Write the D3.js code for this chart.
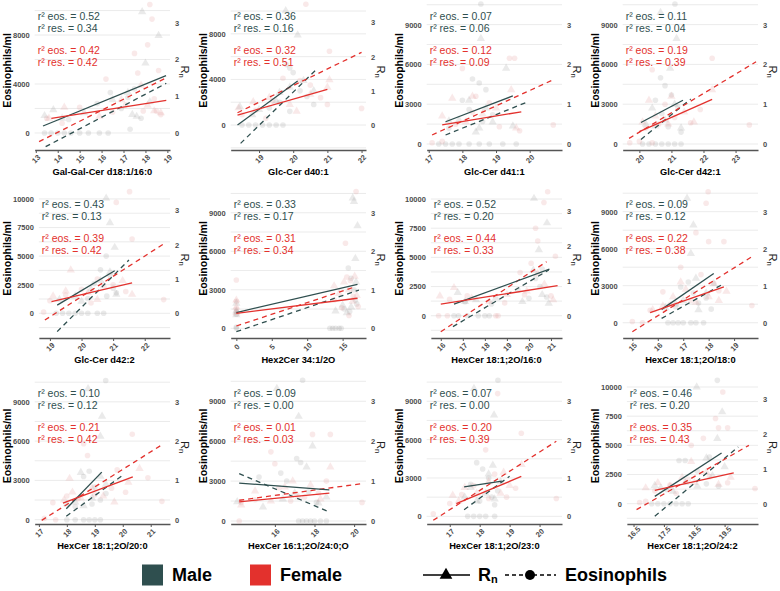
<!DOCTYPE html>
<html><head><meta charset="utf-8">
<script src="https://cdn.jsdelivr.net/npm/d3@7"></script>
<style>body{margin:0;background:#fff}svg{font-family:"Liberation Sans",Arial,sans-serif}</style>
</head><body><svg id="c" width="780" height="591"></svg>
<script>
// ---------------- DATA ----------------
const lipids = ["Gal-Gal-Cer d18:1/16:0","Glc-Cer d40:1","Glc-Cer d41:1","Glc-Cer d42:1",
  "Glc-Cer d42:2","Hex2Cer 34:1/2O","HexCer 18:1;2O/16:0","HexCer 18:1;2O/18:0",
  "HexCer 18:1;2O/20:0","HexCer 16:1;2O/24:0;O","HexCer 18:1;2O/23:0","HexCer 18:1;2O/24:2"];

const r2EosMale   = [0.52,0.36,0.07,0.11,0.43,0.33,0.52,0.09,0.10,0.09,0.07,0.46];
const r2ResMale   = [0.34,0.16,0.06,0.04,0.13,0.17,0.20,0.12,0.12,0.00,0.00,0.20];
const r2EosFemale = [0.42,0.32,0.12,0.19,0.39,0.31,0.44,0.22,0.21,0.01,0.20,0.35];
const r2ResFemale = [0.42,0.51,0.09,0.39,0.42,0.34,0.33,0.38,0.42,0.03,0.39,0.43];

// axis ranges (x: lipid level, y: eosinophils/ml) and tick labels
const xDomains = [[12.95,19.12],[18.17,22.13],[16.94,20.96],[19.48,23.7],[18.65,22.8],[-0.8,18.3],
  [15.55,21.5],[14.62,19.94],[16.85,21.69],[13.77,20.6],[16.23,20.75],[16.28,20.6]];
const eosDomains = [[-1390,10780],[-2190,10880],[-450,10780],[-450,10780],[-2160,10870],[-755,10850],
  [-1910,10860],[-1240,10840],[-330,10820],[-225,10750],[-600,10820],[-1740,10770]];
const xTicks = [[13,14,15,16,17,18,19],[19,20,21,22],[17,18,19,20],[20,21,22,23],[19,20,21,22],[0,5,10,15],
  [16,17,18,19,20,21],[15,16,17,18,19],[17,18,19,20,21],[16,18,20],[17,18,19,20],[16.5,17.5,18.5,19.5]];
const eosTicks = [[0,4000,8000],[0,4000,8000],[0,3000,6000,9000],[0,3000,6000,9000],[0,2500,5000,7500,10000],
  [0,3000,6000,9000],[0,2500,5000,7500,10000],[0,3000,6000,9000],[0,3000,6000,9000],[0,3000,6000,9000],
  [0,3000,6000,9000],[0,2500,5000,7500,10000]];
const rnTicks = [0,1,2,3];
const eosPerRn = 3000;

// regression lines [x1, x2, y1, y2]  (Rn units for Rn, cells/ml for eosinophils)
const maleRnFit = [[13.33,18.94,0.19,1.56],[18.37,20.13,0.0,1.29],[17.5,19.5,0.56,1.21],[20.05,21.36,0.54,1.10],
  [19.23,21.05,0.24,1.24],[0,17.1,0.41,1.14],[16.6,20.93,0.33,1.33],[16.15,18.2,0.36,1.33],
  [17.98,19.25,0.28,1.21],[14.2,18.75,0.95,0.78],[17.48,18.74,0.77,0.92],[17.2,19.4,0.21,1.45]];
const femaleRnFit = [[13.71,18.95,0.40,0.885],[18.37,21.0,0.29,1.04],[17.4,19.75,0.48,0.81],[20.0,22.27,0.31,1.12],
  [19.05,21.6,0.34,0.89],[0,17.1,0.39,0.78],[16.0,21.3,0.33,0.86],[15.7,18.6,0.27,0.97],
  [17.86,20.36,0.42,1.09],[14.2,18.75,0.48,0.70],[17.22,19.39,0.33,1.04],[17.2,19.8,0.38,0.88]];
const maleEosFit = [[13.45,18.95,-1120,4060],[18.46,20.66,-1610,4820],[17.5,19.95,680,3190],[20.05,21.6,350,3390],
  [19.23,21.5,-1600,4660],[0,17.3,-260,2980],[16.55,20.9,-940,3920],[16.15,18.5,350,3060],
  [17.98,20.0,260,3390],[14.2,18.75,3560,680],[17.48,19.0,520,3130],[17.2,19.95,-1080,4860]];
const femaleEosFit = [[13.15,18.9,-710,4465],[18.37,22.0,1080,6380],[17.1,20.75,680,4900],[19.68,23.64,430,6200],
  [18.84,22.63,-590,6120],[0,16.8,180,3240],[16.0,20.8,-1370,4630],[15.0,19.7,-730,5350],
  [17.1,21.46,-50,5800],[14.2,20.35,1560,2800],[16.45,20.56,-310,5870],[16.6,20.3,-510,5000]];

// observations: eosinophils (circles) and Rn (triangles)
const maleEos = [
 [[13.4,0],[13.7,0],[14.0,0],[14.3,0],[14.6,0],[15.0,0],[15.4,0],[15.9,0],[16.3,0],[16.4,3300],[17.2,2900],[17.8,1200],[14.5,1100],[15.8,2400],[17.5,3600],[16.9,2000],[17.3,300]],
 [[18.5,0],[18.7,0],[18.9,0],[19.1,0],[19.3,0],[19.5,0],[19.7,0],[19.9,5000],[20.0,4600],[19.8,5300],[19.6,2000],[20.2,3000],[20.4,2500],[19.3,1500],[20.6,1800],[19.9,1200]],
 [[17.3,0],[17.5,0],[17.7,0],[17.9,0],[18.2,0],[18.5,0],[18.8,0],[19.2,0],[19.6,0],[18.55,10550],[18.3,4900],[18.5,4600],[18.7,4100],[18.0,3300],[18.2,2600],[18.6,1700],[17.6,1200],[18.9,2200]],
 [[20.1,0],[20.3,0],[20.5,0],[20.7,0],[20.9,0],[21.1,0],[21.3,0],[21.11,10550],[20.66,5000],[20.8,4400],[21.0,3700],[21.2,2800],[20.5,3300],[20.9,1300],[21.3,900],[20.7,2300]],
 [[19.2,0],[19.4,0],[19.6,0],[19.8,0],[20.0,0],[20.2,0],[20.5,0],[20.7,0],[20.78,5000],[20.6,3800],[20.9,3300],[21.0,2200],[20.2,1300],[20.8,1500],[21.1,1800],[20.4,2600]],
 [[0,0],[0,100],[0,1100],[0,1300],[13.2,0],[13.6,0],[14.0,0],[14.5,0],[14.8,0],[15.8,4700],[16.2,3900],[16.6,3000],[16.8,2200],[15.2,1500],[16.0,1300],[17.0,1900]],
 [[16.6,0],[16.8,0],[17.2,0],[17.7,0],[18.2,0],[18.0,0],[20.6,4000],[20.3,3200],[20.8,1600],[20.5,2500],[19.5,2200],[17.1,1200],[20.0,1500],[18.3,1000]],
 [[16.4,0],[16.6,0],[16.8,0],[17.0,0],[17.3,0],[17.5,0],[17.8,0],[17.2,3300],[16.9,2900],[17.4,2400],[17.6,1600],[16.7,1300],[18.1,1100],[17.9,2000]],
 [[18.0,0],[18.3,0],[18.6,0],[18.8,0],[19.0,0],[19.2,0],[19.39,10630],[18.6,3300],[18.8,3700],[19.0,2500],[19.2,1500],[18.3,1000],[19.4,2000],[18.9,1200]],
 [[17.2,0],[17.4,0],[17.6,0],[17.8,0],[18.0,0],[18.3,0],[18.6,0],[17.4,10580],[17.1,4700],[17.3,4400],[16.6,3000],[17.7,2200],[18.1,1400],[16.3,3600],[15.2,3300]],
 [[17.6,0],[17.8,0],[18.0,0],[18.2,0],[18.5,0],[18.61,10640],[17.9,4200],[18.1,3700],[18.3,3000],[18.4,1500],[18.0,1200],[18.6,2000],[17.7,2500],[18.5,900]],
 [[17.1,0],[17.3,0],[17.5,0],[17.7,0],[17.9,0],[18.1,0],[18.3,0],[19.26,10570],[18.0,3700],[18.2,3700],[18.6,2800],[18.9,1700],[19.3,1500],[17.6,1200],[19.0,4000]]
];
const femaleEos = [
 [[18.2,10500],[18.3,9300],[18.1,7200],[17.5,6500],[18.6,5100],[17.65,4900],[16.2,4400],[18.5,1800],[18.7,1500],[17.1,2300],[16.5,1700],[15.0,2100],[13.5,1200],[14.2,800],[17.9,1800],[18.4,2800]],
 [[20.37,10600],[21.06,6470],[19.7,4100],[22.0,1460],[18.5,900],[18.9,1300],[19.4,2100],[20.5,3500],[20.8,2400],[21.0,1800],[19.2,600],[20.2,3900]],
 [[19.4,6460],[19.55,6460],[20.7,1440],[17.1,100],[17.4,200],[18.0,5700],[18.4,3600],[18.8,3100],[19.1,1300],[19.7,1000],[18.3,2400],[17.8,1500]],
 [[22.27,6460],[23.43,1440],[19.7,100],[20.0,200],[20.4,100],[20.4,5600],[20.8,3000],[21.1,2000],[21.6,1600],[20.2,1200],[21.9,2600],[20.6,1500]],
 [[21.52,10640],[21.1,9700],[21.6,6500],[22.6,1200],[18.8,100],[19.0,1100],[19.5,1600],[20.0,2100],[20.5,3000],[21.0,2500],[21.4,1900],[20.3,900]],
 [[0,3760],[0,1500],[0,2100],[16.9,10650],[15.4,6620],[15.6,4000],[16.1,3700],[16.5,2500],[14.9,1600],[15.9,1000],[17.2,1700],[13.8,2200]],
 [[20.85,10630],[20.68,9700],[20.3,7500],[20.4,6400],[20.1,4500],[21.2,5100],[15.9,0],[16.3,0],[18.5,0],[18.6,0],[16.4,1400],[17.2,1700],[19.8,1800],[21.0,1700],[19.6,3700],[18.9,1100]],
 [[17.98,10620],[17.9,9680],[17.5,7300],[18.0,6570],[18.6,6570],[19.7,1400],[15.0,100],[15.4,0],[15.7,1000],[16.2,2500],[16.5,1500],[17.3,1800],[18.2,3200],[18.4,2600],[16.9,4500],[17.7,3900]],
 [[20.34,6520],[18.74,4900],[21.4,1400],[17.2,100],[17.6,0],[17.5,1300],[18.0,1800],[18.4,1600],[19.0,1900],[19.6,2400],[20.1,2100],[20.9,3200],[18.6,5800],[19.8,3800]],
 [[17.9,6510],[18.8,6510],[15.8,5200],[14.2,0],[20.4,1400],[14.3,1400],[15.0,1600],[16.2,2500],[16.8,1500],[17.5,1800],[18.2,2100],[18.6,3000],[16.0,4300]],
 [[19.39,6500],[20.56,1400],[16.45,200],[18.6,9600],[17.0,1000],[17.4,1700],[17.8,2400],[18.2,5200],[18.5,3300],[18.9,1500],[19.2,2200],[18.3,1400]],
 [[19.44,9570],[19.2,7300],[19.3,6500],[19.6,6500],[18.8,5600],[18.4,5000],[20.5,1300],[16.7,100],[16.9,200],[17.2,1100],[17.7,1600],[18.3,2100],[19.0,2300],[19.6,1800],[17.9,900]]
];
const maleRn = [
 [[17.85,3.3],[18.6,2.65],[18.0,1.9],[13.4,0.47],[13.8,0.63],[14.2,0.4],[15.2,0.55],[16.5,0.9],[17.2,1.1],[17.4,0.5],[17.6,0.45],[18.2,0.85]],
 [[19.78,3.34],[20.13,2.63],[18.44,0.53],[19.0,0.45],[19.5,0.7],[19.9,1.1],[20.3,1.3],[19.6,0.95],[20.6,1.0],[18.8,0.3]],
 [[18.55,2.65],[19.3,1.9],[17.6,0.58],[18.2,1.1],[18.5,0.4],[18.9,0.55],[19.5,0.45],[17.9,0.6],[18.7,0.9],[18.4,0.3]],
 [[20.66,3.3],[21.16,2.65],[20.96,1.9],[20.2,0.5],[20.5,0.45],[20.8,0.6],[21.1,1.0],[20.4,0.9],[21.3,0.4]],
 [[20.78,3.35],[20.9,2.64],[21.05,1.92],[19.3,0.4],[19.8,0.5],[20.3,0.7],[20.6,0.95],[21.1,0.55],[20.0,0.35],[20.9,1.2]],
 [[0,0.45],[0,0.65],[0,0.35],[16.43,3.38],[16.6,3.29],[17.1,2.66],[16.8,1.81],[14.0,0.45],[15.0,0.6],[16.2,0.55],[16.9,1.2],[15.6,0.4]],
 [[20.23,3.35],[20.82,2.65],[20.45,1.88],[16.77,0.66],[17.1,0.4],[18.5,0.5],[19.7,0.4],[20.6,0.6],[20.9,0.35],[17.6,0.45],[20.2,1.3]],
 [[17.15,3.36],[17.4,2.64],[17.3,1.87],[16.3,0.4],[16.7,0.5],[17.0,0.6],[17.6,0.35],[17.9,0.8],[18.2,1.05],[17.5,1.2]],
 [[18.76,3.33],[19.26,2.63],[19.2,2.12],[18.0,0.4],[18.3,0.45],[18.6,0.35],[18.9,0.55],[19.2,1.1],[18.5,1.2],[19.4,0.9]],
 [[16.1,3.32],[17.2,2.62],[17.9,1.88],[14.1,0.48],[15.4,0.35],[16.4,0.55],[17.0,0.7],[17.6,1.35],[18.2,0.45],[18.6,0.6]],
 [[17.81,3.33],[18.48,2.64],[18.44,1.33],[17.5,0.5],[17.9,0.4],[18.2,0.6],[18.5,0.45],[18.7,0.9],[17.7,0.75],[18.3,1.1]],
 [[18.58,3.33],[19.42,2.62],[19.26,1.86],[17.2,0.52],[17.4,0.45],[17.8,0.35],[18.2,0.6],[18.6,0.5],[19.1,0.8],[19.5,1.05],[18.9,1.3]]
];
const femaleRn = [
 [[13.6,0.4],[14.3,0.7],[15.9,0.45],[16.9,0.9],[17.8,1.3],[18.4,0.6],[18.7,0.55],[18.1,0.75]],
 [[18.83,0.68],[21.06,1.32],[19.3,0.8],[19.9,0.6],[20.5,0.9],[21.0,1.1],[18.4,0.5],[20.1,0.4]],
 [[19.45,1.36],[17.4,0.7],[17.7,1.15],[18.1,0.55],[18.6,0.75],[19.0,0.9],[19.6,0.4],[18.3,1.2]],
 [[22.27,1.36],[20.1,0.55],[20.5,0.7],[20.9,0.5],[21.4,0.8],[21.7,0.55],[20.3,1.1],[21.0,1.2]],
 [[19.66,1.26],[19.1,0.5],[19.5,0.65],[20.2,0.6],[20.7,0.8],[21.3,0.95],[21.6,0.55],[20.5,0.4]],
 [[0,0.73],[0,0.55],[0,0.4],[13.8,1.1],[14.5,0.9],[15.2,1.2],[15.9,1.0],[16.4,0.7],[17.0,0.85],[16.7,1.35]],
 [[15.96,0.56],[16.6,0.8],[17.4,0.5],[18.2,0.4],[19.0,0.6],[19.9,0.7],[20.7,0.9],[21.1,0.45],[20.4,1.2]],
 [[15.8,0.35],[16.2,0.45],[16.6,0.7],[17.1,0.9],[17.5,0.55],[18.0,0.7],[18.4,0.6],[18.7,0.85],[16.9,1.1]],
 [[17.9,0.5],[18.2,0.7],[18.5,0.55],[18.9,0.8],[19.3,0.6],[19.7,0.45],[20.2,0.95],[20.6,1.3],[18.1,1.05]],
 [[18.8,1.35],[14.3,0.4],[15.0,0.75],[15.8,0.5],[16.5,0.85],[17.2,0.6],[17.8,0.9],[18.3,0.55],[16.9,1.0]],
 [[17.1,0.55],[17.5,0.75],[17.9,0.6],[18.3,0.9],[18.7,0.6],[19.0,0.8],[19.4,1.35],[17.3,0.4],[18.8,1.15]],
 [[16.9,0.45],[17.3,0.6],[17.7,0.5],[18.1,0.75],[18.5,0.6],[18.9,0.9],[19.3,0.55],[19.7,0.75],[18.4,1.2]]
];

const sexLabels = ["Male","Female"];
const measureLabels = ["Rn","Eosinophils"];

// ---------------- DRAW ----------------
const MALE = "#2F4F4F", FEMALE = "#E3312D";
const MALE_PT = "#8a8a8a", FEMALE_PT = "#e59a9a";
const svg = d3.select("#c");
const cellW = 196;
const rowTop = [1, 189, 378], rowBottom = [150, 338, 524];
const TICK_FS = 7.5;
const FONT = "Liberation Sans, Arial, sans-serif";
const fmt = d => String(d);

function measure(str, fs, weight){
  const t = svg.append("text").attr("font-size",fs).attr("font-weight",weight).attr("font-family",FONT).text(str);
  const w = t.node().getComputedTextLength(); t.remove(); return w;
}

lipids.forEach((name,i)=>{
  const c = i%4, r = Math.floor(i/4);
  const cellLeft = c*cellW;
  const lw = d3.max(eosTicks[i], v=>measure(fmt(v), TICK_FS, "bold"));
  const left = cellLeft + 13 + lw + 5;
  const right = cellLeft + cellW - 26;
  const top = rowTop[r], bottom = rowBottom[r];
  const x = d3.scaleLinear().domain(xDomains[i]).range([left,right]);
  const y = d3.scaleLinear().domain(eosDomains[i]).range([bottom,top]);
  const yR = d3.scaleLinear().domain(eosDomains[i].map(v=>v/eosPerRn)).range([bottom,top]);
  const g = svg.append("g");

  // grid (major + minor)
  const step = eosTicks[i][1]-eosTicks[i][0], half = step/2;
  const gv = d3.range(Math.ceil(eosDomains[i][0]/half)*half, eosDomains[i][1], half);
  g.append("g").selectAll("line").data(gv).join("line")
    .attr("x1",left).attr("x2",right).attr("y1",d=>y(d)).attr("y2",d=>y(d))
    .attr("stroke","#e6e6e6").attr("stroke-width",0.8);

  // left axis
  const ax = g.append("g").attr("transform",`translate(${left},0)`)
    .call(d3.axisLeft(y).tickValues(eosTicks[i]).tickFormat(fmt).tickSize(0).tickPadding(5));
  ax.select(".domain").remove();
  ax.selectAll("text").attr("font-size",TICK_FS).attr("font-weight","bold").attr("fill","#4d4d4d").attr("font-family",FONT);

  // right axis
  const rx = g.append("g").attr("transform",`translate(${right},0)`)
    .call(d3.axisRight(yR).tickValues(rnTicks).tickFormat(fmt).tickSize(0).tickPadding(5));
  rx.select(".domain").remove();
  rx.selectAll("text").attr("font-size",TICK_FS).attr("font-weight","bold").attr("fill","#4d4d4d").attr("font-family",FONT);

  // bottom axis
  const bx = g.append("g").attr("transform",`translate(0,${bottom})`)
    .call(d3.axisBottom(x).tickValues(xTicks[i]).tickSize(3).tickSizeOuter(0).tickFormat(fmt));
  bx.select(".domain").attr("stroke","#555").attr("stroke-width",1.6);
  bx.selectAll(".tick line").attr("stroke","#555");
  bx.selectAll("text").attr("font-size",TICK_FS).attr("font-weight","bold").attr("fill","#4d4d4d").attr("font-family",FONT)
    .attr("text-anchor","middle").attr("dy",null).attr("y",0)
    .attr("transform","translate(0,9) rotate(-45)").attr("dominant-baseline","central");

  // titles
  g.append("text").attr("transform",`translate(${cellLeft+7},${(top+bottom)/2-5}) rotate(-90)`)
    .attr("text-anchor","middle").attr("dominant-baseline","central")
    .attr("font-size",10.5).attr("font-weight","bold").text("Eosinophils/ml");
  g.append("text").attr("x",(left+right)/2).attr("y",bottom+22).attr("text-anchor","middle")
    .attr("dominant-baseline","central").attr("font-size",9.3).attr("font-weight","bold").text(name);
  const rt = g.append("text").attr("transform",`translate(${right+15},${(top+bottom)/2-4}) rotate(90)`)
    .attr("text-anchor","middle").attr("dominant-baseline","central").attr("font-size",11).attr("fill","#222");
  rt.append("tspan").text("R");
  rt.append("tspan").attr("font-size",7.5).attr("dy",3).text("n");

  // points
  const tri = d3.symbol().type(d3.symbolTriangle).size(30);
  g.append("g").selectAll("circle").data(maleEos[i]).join("circle")
    .attr("cx",d=>x(d[0])).attr("cy",d=>y(d[1])).attr("r",2.8).attr("fill",MALE_PT).attr("fill-opacity",0.18);
  g.append("g").selectAll("circle").data(femaleEos[i]).join("circle")
    .attr("cx",d=>x(d[0])).attr("cy",d=>y(d[1])).attr("r",2.8).attr("fill",FEMALE_PT).attr("fill-opacity",0.22);
  g.append("g").selectAll("path").data(maleRn[i]).join("path").attr("d",tri)
    .attr("transform",d=>`translate(${x(d[0])},${yR(d[1])})`).attr("fill",MALE_PT).attr("fill-opacity",0.18);
  g.append("g").selectAll("path").data(femaleRn[i]).join("path").attr("d",tri)
    .attr("transform",d=>`translate(${x(d[0])},${yR(d[1])})`).attr("fill",FEMALE_PT).attr("fill-opacity",0.22);

  // fitted lines
  function fit(f, sc, col, dash){
    g.append("line").attr("x1",x(f[0])).attr("x2",x(f[1])).attr("y1",sc(f[2])).attr("y2",sc(f[3]))
      .attr("stroke",col).attr("stroke-width",1.3).attr("stroke-dasharray",dash?"5,4":null);
  }
  fit(maleEosFit[i], y, MALE, true);
  fit(femaleEosFit[i], y, FEMALE, true);
  fit(maleRnFit[i], yR, MALE, false);
  fit(femaleRnFit[i], yR, FEMALE, false);

  // r2 annotations
  const ann = [[`r² eos. = ${r2EosMale[i].toFixed(2)}`,MALE,15],[`r² res. = ${r2ResMale[i].toFixed(2)}`,MALE,26.5],
               [`r² eos. = ${r2EosFemale[i].toFixed(2)}`,FEMALE,49],[`r² res. = ${r2ResFemale[i].toFixed(2)}`,FEMALE,60.5]];
  ann.forEach(a=>{
    g.append("text").attr("x",left+3).attr("y",top+a[2]).attr("dominant-baseline","central")
      .attr("font-size",10.5).attr("fill",a[1]).text(a[0]);
  });
});

// ---------------- LEGEND ----------------
const lg = svg.append("g");
const ly = 575, LFS = 18;
[[142,MALE,sexLabels[0]],[250,FEMALE,sexLabels[1]]].forEach(d=>{
  lg.append("rect").attr("x",d[0]).attr("y",ly-10.5).attr("width",21).attr("height",21).attr("fill",d[1]);
  lg.append("text").attr("x",d[0]+30).attr("y",ly).attr("dominant-baseline","central")
    .attr("font-size",LFS).attr("font-weight","bold").text(d[2]);
});
lg.append("line").attr("x1",423).attr("x2",470).attr("y1",ly).attr("y2",ly).attr("stroke","#000").attr("stroke-width",1.5);
lg.append("path").attr("d",d3.symbol().type(d3.symbolTriangle).size(70)).attr("transform",`translate(446,${ly})`);
const lr = lg.append("text").attr("x",478).attr("y",ly).attr("dominant-baseline","central").attr("font-size",LFS).attr("font-weight","bold");
lr.append("tspan").text("R");
lr.append("tspan").attr("font-size",11).attr("dy",4).text("n");
lg.append("line").attr("x1",505).attr("x2",556).attr("y1",ly).attr("y2",ly).attr("stroke","#000").attr("stroke-width",1.5).attr("stroke-dasharray","4,3");
lg.append("circle").attr("cx",530).attr("cy",ly).attr("r",5);
lg.append("text").attr("x",565).attr("y",ly).attr("dominant-baseline","central").attr("font-size",LFS).attr("font-weight","bold").text(measureLabels[1]);
</script></body></html>
